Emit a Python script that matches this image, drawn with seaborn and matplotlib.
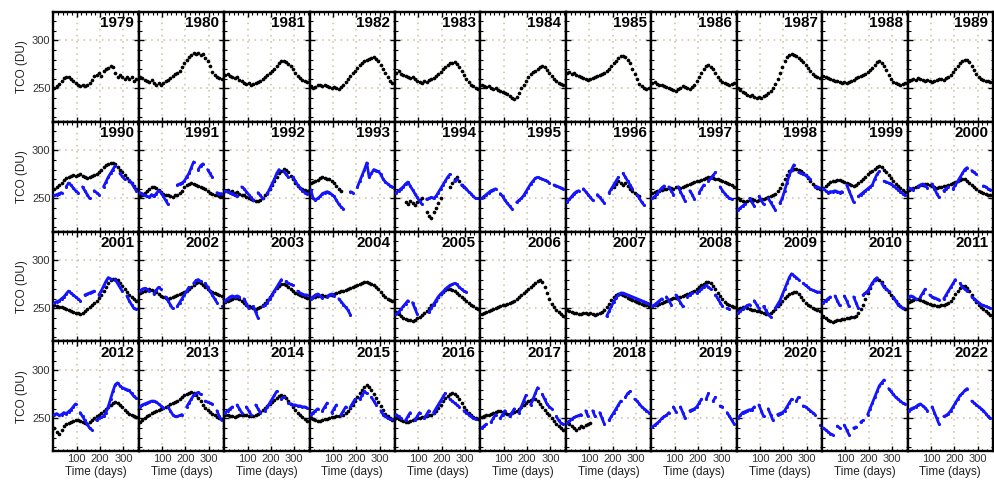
import numpy as np
import pandas as pd
import matplotlib
matplotlib.use("Agg")
import matplotlib.pyplot as plt
from matplotlib.ticker import FixedLocator, MultipleLocator
import seaborn as sns

nan = np.nan

# ---------------- data ----------------
years = list(range(1979, 2023))
days = list(range(5, 360, 10))  # 36 sample days per year

# ground-based daily TCO (black dots), sampled every 10 days
black_1979 = [250,252,255,258,261,262,262,260,258,256,254,252,253,252,253,256,259,263,264,266,263,268,270,271,273,272,266,262,264,262,260,262,260,262,258,260]
black_1980 = [262,261,259,258,257,259,256,254,256,254,256,258,259,261,263,265,266,268,272,276,280,283,285,287,286,287,285,286,282,278,273,267,264,262,261,260]
black_1981 = [264,265,263,262,261,262,259,258,256,255,256,254,255,256,257,258,260,262,264,266,268,270,273,276,278,279,277,275,273,270,266,263,261,259,258,257]
black_1982 = [252,250,251,253,254,252,253,252,251,250,251,250,249,251,254,257,260,263,266,268,271,274,276,278,280,281,282,283,281,278,274,270,266,262,258,256]
black_1983 = [266,268,265,264,263,262,261,262,260,258,257,256,258,257,259,260,261,263,265,267,270,272,274,276,276,277,275,272,268,264,260,257,254,252,250,249]
black_1984 = [253,252,251,252,250,249,250,248,247,246,245,244,242,240,239,241,245,250,254,258,262,265,267,268,270,272,273,272,269,266,263,260,258,256,255,254]
black_1985 = [266,267,265,266,264,263,262,261,260,259,260,261,262,263,264,265,266,268,270,273,276,279,282,284,284,283,280,276,270,265,260,255,252,250,249,250]
black_1986 = [256,257,255,254,253,252,251,250,249,248,247,249,250,252,251,250,249,251,254,258,262,266,270,273,274,272,270,266,262,259,257,256,255,254,255,256]
black_1987 = [250,248,246,245,243,242,243,241,240,241,240,242,243,245,247,250,255,260,266,272,278,283,285,286,285,284,282,280,277,274,271,268,265,263,262,261]
black_1988 = [263,262,261,260,259,258,258,257,256,257,256,257,258,259,261,262,263,264,265,267,269,271,274,277,278,276,273,269,264,260,257,256,255,254,255,256]
black_1989 = [258,259,260,259,261,260,259,258,259,258,257,258,259,260,260,259,261,262,264,267,270,273,276,279,280,280,277,273,269,265,262,260,259,258,258,257]
black_1990 = [260,262,264,266,269,271,272,273,274,273,274,275,273,272,271,272,273,274,275,277,280,283,285,286,287,287,286,283,280,277,274,271,268,266,263,260]
black_1991 = [252,254,256,258,260,262,262,261,259,257,255,254,253,252,251,253,254,256,258,262,264,265,266,265,264,263,262,261,260,258,256,255,254,253,252,252]
black_1992 = [258,259,257,258,256,257,255,254,253,251,250,249,248,247,247,248,250,253,256,260,264,268,272,276,279,281,280,277,273,270,266,263,261,260,259,258]
black_1993 = [266,267,268,269,271,272,271,270,270,268,266,263,260,258] + [nan] * 22
black_1994 = [nan,nan,nan,nan,246,244,247,245,243,246,248,250,nan,236,232,230,236,240,245,250,nan,nan,nan,262,266,270,272,268,264,262,nan,nan,nan,nan,nan,nan]
black_1995 = [nan] * 36
black_1996 = [nan] * 20 + [262,265,268,266,264,266,263,260,258,256,254,252,nan,nan,nan,nan]
black_1997 = [256,257,258,258,259,260,260,261,261,260,262,262,261,262,263,264,265,266,267,268,268,269,270,271,272,272,271,270,270,269,268,267,266,265,264,262]
black_1998 = [250,248,247,246,247,248,249,248,247,248,249,249,250,251,252,253,255,258,261,265,270,274,278,280,281,281,280,278,276,274,271,268,265,263,261,260]
black_1999 = [261,263,265,267,268,268,269,269,268,267,266,265,264,263,264,266,268,270,272,275,277,279,281,283,284,283,280,277,274,271,268,265,263,261,259,257]
black_2000 = [259,260,261,262,263,264,264,265,265,264,263,262,261,262,262,263,263,264,265,266,267,268,269,270,270,268,266,264,262,260,258,257,256,255,254,254]
black_2001 = [253,252,251,251,250,249,248,247,246,245,245,244,245,247,249,251,253,256,258,261,264,268,272,276,279,281,281,279,276,273,270,267,264,262,260,258]
black_2002 = [266,267,268,269,270,269,268,267,265,263,262,261,260,261,262,263,264,265,266,267,268,270,272,274,276,277,276,274,272,270,268,267,266,265,264,263]
black_2003 = [257,258,259,260,261,261,260,258,256,254,252,251,250,249,250,251,253,256,259,262,265,268,271,273,275,275,274,272,270,268,266,265,264,263,262,261]
black_2004 = [261,262,262,263,263,264,263,263,264,264,265,266,267,268,268,269,270,271,272,273,274,275,276,277,277,276,275,274,272,270,267,264,262,260,259,258]
black_2005 = [246,244,242,240,239,238,238,237,238,240,241,243,245,247,250,253,256,259,262,265,267,269,270,270,269,268,266,264,262,260,258,256,254,252,250,249]
black_2006 = [244,245,246,247,248,249,250,251,252,253,254,255,256,257,258,260,262,264,266,268,270,272,274,276,278,279,277,272,266,260,255,251,248,246,244,242]
black_2007 = [248,247,246,245,245,244,244,245,245,244,245,244,243,244,245,246,248,251,255,259,262,264,265,265,264,263,261,260,259,258,257,256,255,254,253,252]
black_2008 = [252,253,254,255,256,257,258,259,260,261,261,262,262,263,264,265,266,267,268,270,272,274,275,277,277,276,273,270,266,263,260,257,255,253,252,251]
black_2009 = [249,250,251,251,250,249,248,248,247,247,246,245,244,244,245,247,249,252,255,258,261,263,265,266,267,267,265,262,259,256,254,252,250,249,248,247]
black_2010 = [242,240,238,237,236,237,238,238,239,239,240,240,241,241,242,245,249,254,260,266,271,276,279,281,280,277,273,270,267,264,261,258,255,252,250,249]
black_2011 = [257,258,259,260,260,259,258,257,256,255,254,253,252,252,253,254,255,256,258,261,265,268,271,273,273,271,268,264,260,257,254,251,249,247,245,243]
black_2012 = [240,236,234,238,242,244,245,246,247,248,248,247,246,245,244,246,248,250,252,254,256,258,260,262,264,266,267,266,264,262,259,257,255,253,252,251]
black_2013 = [246,248,250,252,254,256,257,258,259,260,261,262,263,265,266,267,268,270,272,274,275,276,277,276,274,271,268,264,261,259,257,255,253,251,250,249]
black_2014 = [254,253,252,252,251,252,253,254,254,253,252,252,252,253,255,257,259,261,263,265,267,269,271,273,274,273,271,268,265,262,259,256,253,251,249,247]
black_2015 = [250,249,248,247,247,248,249,249,250,251,251,252,252,253,254,256,258,261,264,268,272,276,280,283,285,283,279,275,271,267,263,259,255,252,250,248]
black_2016 = [250,249,248,247,246,246,247,248,249,250,250,251,251,252,253,254,256,258,261,264,268,271,273,275,276,275,273,270,266,262,259,256,253,251,250,249]
black_2017 = [251,252,253,254,255,256,257,258,258,257,256,255,255,256,257,258,260,262,264,266,268,269,270,270,268,265,262,259,256,253,250,247,244,242,240,238]
black_2018 = [246,244,242,240,238,240,242,241,243,244,245] + [nan] * 25

# satellite TCO (blue), sampled every 10 days; nan = gap between segments
blue_1990 = [253,254,255,256,nan,262,266,264,261,258,256,nan,262,258,254,250,nan,258,256,254,nan,262,267,272,276,280,284,nan,276,273,270,nan,269,266,262,258]
blue_1991 = [256,255,253,252,251,254,252,255,258,256,252,248,244,nan,nan,nan,264,265,266,268,272,276,282,288,nan,280,284,286,nan,280,276,272,nan,256,255,255]
blue_1992 = [258,257,256,255,253,252,nan,262,260,257,254,251,248,nan,256,253,250,nan,255,260,265,270,276,280,nan,278,275,272,nan,272,268,264,261,258,256,255]
blue_1993 = [259,250,248,250,252,255,256,257,256,254,252,248,244,241,239,nan,nan,257,256,nan,262,268,274,280,287,272,276,280,279,278,275,270,267,265,263,262]
blue_1994 = [256,258,260,262,265,267,263,259,255,251,247,244,nan,249,250,251,250,252,256,260,264,268,272,275,nan,268,270,nan,264,262,260,257,255,252,250,250]
blue_1995 = [250,252,254,256,258,259,260,nan,255,252,248,245,242,239,nan,246,248,250,253,257,261,265,268,271,272,271,270,269,268,266,nan,264,263,262,261,260]
blue_1996 = [246,249,252,255,257,258,nan,260,257,254,251,248,nan,254,251,248,245,nan,256,260,264,268,272,nan,276,272,268,264,260,nan,254,250,246,243,nan,nan]
blue_1997 = [250,252,255,258,261,263,nan,262,258,254,nan,262,257,252,247,nan,258,254,249,nan,256,260,264,nan,268,271,274,277,nan,262,258,255,252,250,249,nan]
blue_1998 = [238,240,242,244,nan,250,246,242,nan,252,248,244,nan,250,246,242,238,nan,245,250,258,266,274,280,285,nan,277,276,275,274,272,270,nan,262,262,261]
blue_1999 = [260,258,256,257,257,258,257,256,257,nan,264,258,252,246,nan,252,254,256,258,260,262,264,270,275,278,nan,268,267,266,265,263,261,259,257,255,253]
blue_2000 = [261,260,259,nan,262,264,265,263,261,nan,265,260,255,251,nan,258,260,262,nan,260,264,268,272,276,280,282,nan,279,277,275,nan,nan,263,262,260,259]
blue_2001 = [256,257,258,260,262,265,268,266,264,262,260,258,nan,264,265,266,267,268,nan,264,268,273,278,282,281,nan,280,276,272,268,nan,263,258,254,250,249]
blue_2002 = [268,270,271,270,268,nan,265,269,272,270,nan,262,258,254,250,nan,252,256,260,264,268,272,nan,276,279,280,278,nan,276,272,268,264,260,256,nan,252]
blue_2003 = [258,260,262,263,262,263,262,nan,260,255,250,nan,252,246,240,nan,252,253,256,260,264,268,272,276,280,nan,278,276,275,274,nan,268,266,265,264,264]
blue_2004 = [260,262,264,265,263,261,nan,262,264,265,263,nan,260,257,254,251,248,243] + [nan] * 18
blue_2005 = [244,246,249,252,255,258,nan,256,250,244,nan,nan,nan,nan,246,250,254,258,262,265,267,270,272,274,275,276,275,272,270,268,267,nan,nan,nan,nan,nan]
blue_2006 = [nan] * 36
blue_2007 = [nan] * 17 + [242,247,252,257,261,264,266,266,265,264,263,262,261,260,259,258,257,256,255]
blue_2008 = [252,254,256,258,260,nan,262,258,254,nan,264,260,256,252,nan,262,264,266,nan,266,268,270,272,274,272,270,nan,264,260,256,252,nan,250,249,nan,nan]
blue_2009 = [245,247,249,251,253,254,nan,258,254,250,nan,252,248,244,241,nan,250,254,258,264,270,276,282,286,284,282,280,nan,276,274,272,270,269,268,267,267]
blue_2010 = [256,258,260,262,nan,263,258,253,nan,263,258,252,nan,262,256,250,nan,264,266,268,272,276,280,282,nan,276,272,270,268,nan,262,258,254,252,250,nan]
blue_2011 = [262,263,262,260,nan,262,266,270,nan,264,262,261,260,259,nan,260,264,268,272,276,280,nan,276,272,270,268,nan,262,260,258,256,254,253,252,251,250]
blue_2012 = [254,255,253,254,256,255,257,259,262,265,nan,256,252,248,244,240,238,nan,248,250,251,252,256,262,270,278,285,287,284,282,281,280,279,276,273,271]
blue_2013 = [262,264,265,266,267,268,268,267,265,263,261,nan,262,258,254,252,252,253,254,nan,262,266,270,274,276,277,275,nan,268,267,266,265,nan,258,252,248]
blue_2014 = [256,258,260,262,nan,264,260,256,nan,262,258,254,nan,264,260,256,nan,258,262,266,270,274,278,nan,270,272,nan,266,265,264,264,263,263,262,262,261]
blue_2015 = [254,256,258,260,nan,258,262,266,nan,256,260,264,nan,254,258,262,nan,262,266,270,nan,270,274,278,276,nan,272,268,264,nan,258,254,252,250,249,249]
blue_2016 = [254,252,250,nan,248,252,256,nan,248,252,256,nan,250,254,258,nan,256,260,264,268,272,276,nan,270,268,266,264,262,nan,258,256,254,252,250,249,nan]
blue_2017 = [240,242,244,nan,246,250,254,nan,250,254,258,nan,252,256,260,nan,256,262,268,274,nan,264,270,276,282,nan,275,270,265,262,260,nan,252,248,245,244]
blue_2018 = [245,247,249,251,252,253,254,nan,258,252,nan,258,252,nan,256,250,244,nan,248,252,256,260,264,268,nan,272,276,278,nan,270,268,265,262,260,258,256]
blue_2019 = [241,243,245,247,250,252,253,256,nan,262,257,nan,262,256,250,nan,258,259,260,262,266,270,nan,270,276,nan,268,272,nan,263,262,nan,256,252,248,244]
blue_2020 = [250,253,256,257,258,259,259,262,nan,264,258,252,nan,260,254,248,nan,254,255,256,258,262,266,270,nan,268,272,nan,263,262,260,258,256,254,nan,243]
blue_2021 = [240,238,236,234,233,nan,242,240,nan,243,238,233,nan,240,241,nan,246,248,nan,254,260,266,272,278,284,287,290,nan,281,278,275,272,270,268,266,265]
blue_2022 = [258,260,261,262,264,265,263,261,258,nan,262,256,250,244,nan,252,253,255,258,262,266,270,274,276,279,281,nan,268,266,264,262,260,258,255,252,250]

# ---------------- build tidy tables ----------------
rows_b, rows_s = [], []
g = globals()
for yr in years:
    bl = g.get(f"black_{yr}")
    if bl is not None:
        for d, v in zip(days, bl):
            if not np.isnan(v):
                rows_b.append((yr, d, v))
    sl = g.get(f"blue_{yr}")
    if sl is not None:
        seg = 0
        for d, v in zip(days, sl):
            if np.isnan(v):
                seg += 1
            else:
                rows_s.append((yr, d, v, seg))
df_black = pd.DataFrame(rows_b, columns=["year", "day", "tco"])
df_blue = pd.DataFrame(rows_s, columns=["year", "day", "tco", "seg"])

# ---------------- figure ----------------
sns.set_theme(style="white")
plt.rcParams["font.family"] = ["Liberation Sans", "DejaVu Sans"]
plt.rcParams["axes.unicode_minus"] = False

fig, axes = plt.subplots(4, 11, figsize=(9.95, 4.8), dpi=100, sharex=True, sharey=True)
fig.subplots_adjust(left=0.0536, right=0.998, top=0.976, bottom=0.0594, wspace=0, hspace=0)

BLUE = "#1414ff"
GRID = "#c8c0a2"

for i, yr in enumerate(years):
    ax = axes.flat[i]
    ax.set_facecolor("white")
    sub_b = df_black[df_black.year == yr]
    sub_s = df_blue[df_blue.year == yr]
    if len(sub_b):
        sns.scatterplot(data=sub_b, x="day", y="tco", ax=ax, color="black",
                        s=7, linewidth=0, legend=False, zorder=3)
    if len(sub_s):
        sns.lineplot(data=sub_s, x="day", y="tco", units="seg", estimator=None,
                     ax=ax, color=BLUE, lw=2.0, legend=False, zorder=4)
        sns.scatterplot(data=sub_s, x="day", y="tco", ax=ax, color=BLUE,
                        s=5, linewidth=0, legend=False, zorder=4)
    ax.set_xlim(0, 366)
    ax.set_ylim(215.5, 330)
    ax.xaxis.set_major_locator(FixedLocator([100, 200, 300]))
    ax.xaxis.set_minor_locator(MultipleLocator(20))
    ax.yaxis.set_major_locator(FixedLocator([250, 300]))
    ax.yaxis.set_minor_locator(MultipleLocator(10))
    ax.grid(True, which="major", color=GRID, linestyle=(0, (1, 3)), linewidth=1.1)
    ax.tick_params(which="both", direction="in", top=True, right=True,
                   bottom=True, left=True, colors="black", labelcolor="#333333",
                   labelsize=8, pad=2)
    ax.tick_params(which="major", length=3.5, width=1.0)
    ax.tick_params(which="minor", length=1.8, width=0.8)
    for sp in ax.spines.values():
        sp.set_linewidth(1.7)
        sp.set_color("black")
    ax.text(0.945, 0.955, str(yr), transform=ax.transAxes, ha="right", va="top",
            fontsize=11, fontweight="bold", color="black", zorder=6)
    r, c = divmod(i, 11)
    ax.set_xlabel("Time (days)" if r == 3 else "", fontsize=8.5, color="#222222", labelpad=1)
    ax.set_ylabel("TCO (DU)" if c == 0 else "", fontsize=8.5, color="#222222", labelpad=3)

fig.savefig("out.png", dpi=100, facecolor="white")
